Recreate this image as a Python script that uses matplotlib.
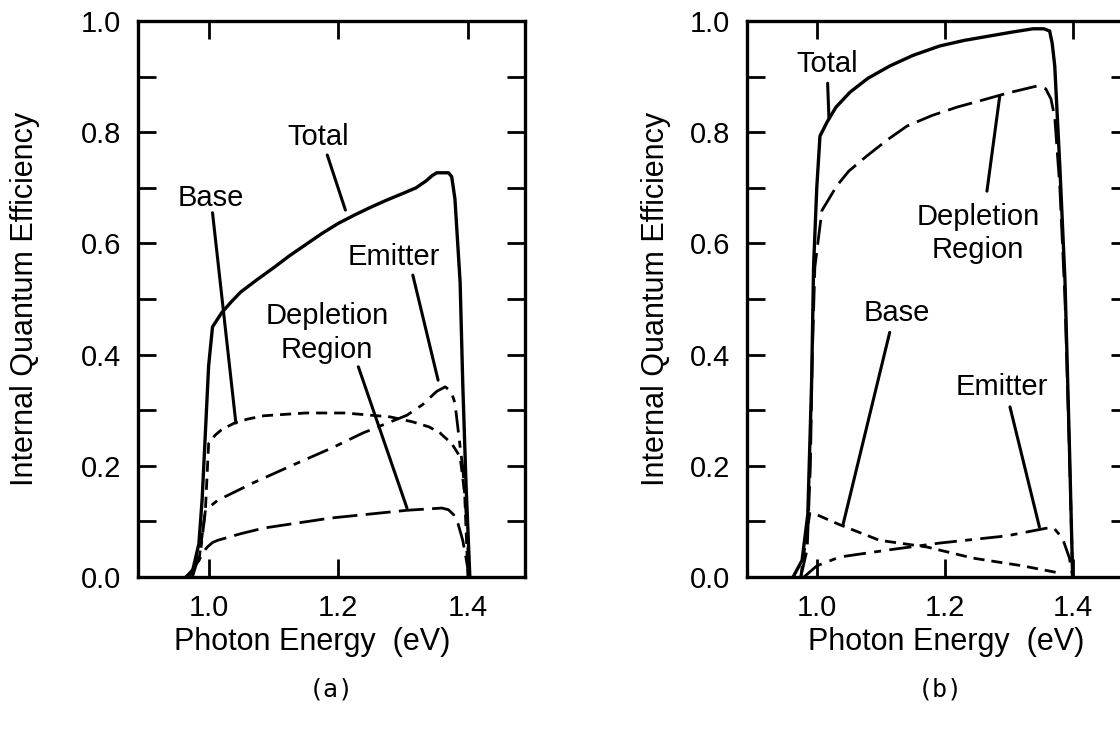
import matplotlib.pyplot as plt

plt.rcParams['font.family'] = ['Liberation Sans', 'DejaVu Sans']

# ---- panel (a) data: photon energy (eV) vs internal quantum efficiency
a_total_x = [0.965, 0.975, 0.985, 0.990, 0.995, 1.000, 1.006, 1.02, 1.035, 1.05, 1.075,
             1.10, 1.125, 1.15, 1.175, 1.20, 1.225, 1.25, 1.275, 1.30, 1.32, 1.335, 1.345,
             1.352, 1.370, 1.375, 1.380, 1.388, 1.392, 1.397, 1.403]
a_total_y = [0.0, 0.01, 0.06, 0.14, 0.26, 0.38, 0.45, 0.475, 0.495, 0.513, 0.535,
             0.556, 0.578, 0.598, 0.618, 0.636, 0.651, 0.665, 0.678, 0.69, 0.70, 0.712, 0.722,
             0.727, 0.727, 0.72, 0.68, 0.53, 0.35, 0.17, 0.0]

a_base_x = [0.970, 0.985, 0.995, 1.000, 1.01, 1.02, 1.04, 1.06, 1.085, 1.15, 1.21, 1.28,
            1.315, 1.34, 1.357, 1.375, 1.388, 1.395, 1.400]
a_base_y = [0.0, 0.03, 0.12, 0.24, 0.255, 0.265, 0.277, 0.284, 0.29, 0.295, 0.295, 0.288,
            0.279, 0.27, 0.259, 0.24, 0.216, 0.15, 0.0]

a_emit_x = [0.975, 0.988, 0.995, 1.014, 1.07, 1.137, 1.19, 1.238, 1.306, 1.33, 1.352,
            1.365, 1.374, 1.380, 1.388, 1.392, 1.398, 1.402]
a_emit_y = [0.0, 0.05, 0.12, 0.138, 0.17, 0.205, 0.232, 0.259, 0.291, 0.31, 0.334,
            0.342, 0.334, 0.313, 0.234, 0.198, 0.1, 0.0]

a_depl_x = [0.965, 0.975, 0.985, 0.992, 0.998, 1.006, 1.014, 1.05, 1.085, 1.188, 1.306,
            1.36, 1.37, 1.378, 1.385, 1.392, 1.397, 1.402]
a_depl_y = [0.0, 0.013, 0.03, 0.045, 0.054, 0.062, 0.066, 0.078, 0.088, 0.106, 0.12,
            0.124, 0.121, 0.112, 0.095, 0.066, 0.035, 0.0]

# ---- panel (b) data
b_total_x = [0.963, 0.977, 0.986, 0.992, 0.995, 1.000, 1.005, 1.016, 1.03, 1.052, 1.08,
             1.114, 1.15, 1.192, 1.23, 1.27, 1.305, 1.338, 1.355, 1.364, 1.368, 1.372,
             1.380, 1.388, 1.395, 1.400]
b_total_y = [0.0, 0.03, 0.113, 0.353, 0.559, 0.70, 0.793, 0.818, 0.845, 0.872, 0.897,
             0.919, 0.938, 0.955, 0.965, 0.973, 0.98, 0.986, 0.986, 0.982, 0.96, 0.919,
             0.737, 0.533, 0.232, 0.0]

b_depl_x = [0.975, 0.985, 0.990, 0.993, 0.997, 1.008, 1.031, 1.05, 1.078, 1.11, 1.141,
            1.18, 1.219, 1.26, 1.297, 1.344, 1.358, 1.366, 1.372, 1.380, 1.388, 1.395,
            1.400]
b_depl_y = [0.0, 0.05, 0.2, 0.4, 0.557, 0.659, 0.703, 0.73, 0.757, 0.786, 0.811,
            0.83, 0.845, 0.858, 0.870, 0.883, 0.878, 0.86, 0.827, 0.70, 0.50, 0.22,
            0.0]

b_base_x = [0.975, 0.982, 0.989, 1.0, 1.036, 1.098, 1.172, 1.244, 1.322, 1.38]
b_base_y = [0.0, 0.06, 0.114, 0.112, 0.094, 0.066, 0.054, 0.034, 0.02, 0.007]

b_emit_x = [0.980, 0.990, 1.0, 1.036, 1.114, 1.192, 1.297, 1.369, 1.384, 1.395, 1.400]
b_emit_y = [0.0, 0.01, 0.02, 0.036, 0.049, 0.061, 0.074, 0.09, 0.07, 0.034, 0.0]

# labels: text, text position, leader line start, leader line end
a_notes = [("Total", (1.169, 0.791), (1.183, 0.759), (1.211, 0.660)),
           ("Base", (1.003, 0.682), (1.006, 0.655), (1.042, 0.277)),
           ("Emitter", (1.285, 0.576), (1.315, 0.543), (1.354, 0.354)),
           ("Depletion\nRegion", (1.183, 0.439), (1.231, 0.378), (1.306, 0.124))]
b_notes = [("Total", (1.017, 0.922), (1.017, 0.888), (1.019, 0.825)),
           ("Depletion\nRegion", (1.252, 0.618), (1.286, 0.865), (1.266, 0.694)),
           ("Base", (1.125, 0.474), (1.114, 0.440), (1.041, 0.094)),
           ("Emitter", (1.289, 0.341), (1.302, 0.306), (1.348, 0.090))]

x_ticks = [1.0, 1.2, 1.4]
y_ticks = [0.0, 0.2, 0.4, 0.6, 0.8, 1.0]

fig = plt.figure(figsize=(11.2, 7.29), dpi=100)
ax_a = fig.add_axes([0.1232, 0.2085, 0.3455, 0.7627])
ax_b = fig.add_axes([0.667, 0.2085, 0.3410, 0.7627])

base_dash = (0, (4, 2.5))
emit_dash = (0, (8, 3, 2.5, 3))
depl_dash = (0, (9, 3))

panels = [
    (ax_a, (a_total_x, a_total_y), (a_base_x, a_base_y), (a_emit_x, a_emit_y),
     (a_depl_x, a_depl_y), a_notes, "(a)", 0.45, -0.253, 331),
    (ax_b, (b_total_x, b_total_y), (b_base_x, b_base_y), (b_emit_x, b_emit_y),
     (b_depl_x, b_depl_y), b_notes, "(b)", 0.521, -0.20, 940),
]

for ax, tot, base, emit, depl, notes, tag, xl_x, yl_x, tag_x in panels:
    ax.plot(*tot, color='black', lw=2.4)
    ax.plot(*base, color='black', lw=2.0, linestyle=base_dash)
    ax.plot(*emit, color='black', lw=2.0, linestyle=emit_dash)
    ax.plot(*depl, color='black', lw=2.0, linestyle=depl_dash)

    for txt, pos, p0, p1 in notes:
        ax.text(pos[0], pos[1], txt, ha='center', va='center', fontsize=21,
                linespacing=1.25)
        ax.annotate('', xy=p1, xytext=p0,
                    arrowprops=dict(arrowstyle='-', lw=2.2, color='black',
                                    shrinkA=0, shrinkB=0))

    ax.set_xlim(0.891, 1.488)
    ax.set_ylim(0.0, 1.0)
    ax.set_xticks(x_ticks)
    ax.set_xticklabels([f"{v:.1f}" for v in x_ticks])
    ax.set_yticks(y_ticks)
    ax.set_yticklabels([f"{v:.1f}" for v in y_ticks])
    ax.set_yticks([0.1, 0.3, 0.5, 0.7, 0.9], minor=True)
    ax.tick_params(which='both', direction='in', length=13, width=2,
                   top=True, right=True, labelsize=21, pad=12)
    for s in ax.spines.values():
        s.set_linewidth(2.4)
    ax.set_xlabel("Photon Energy  (eV)", fontsize=22)
    ax.xaxis.set_label_coords(xl_x, -0.09)
    ax.set_ylabel("Internal Quantum Efficiency", fontsize=22)
    ax.yaxis.set_label_coords(yl_x, 0.5)
    fig.text(tag_x / 1120, 1 - 690 / 729, tag, ha='center', va='center',
             fontsize=18, family=['DejaVu Sans Mono'])

fig.savefig('out.png', dpi=100)
